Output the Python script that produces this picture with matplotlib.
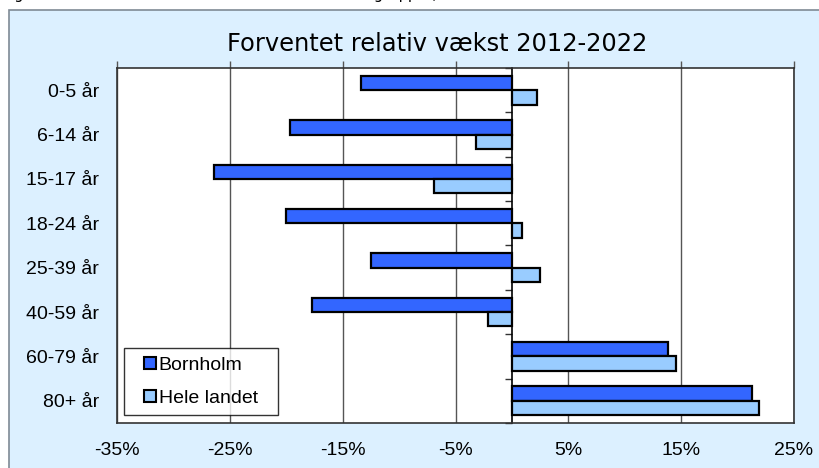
import matplotlib
matplotlib.use('Agg')
import matplotlib.pyplot as plt
from matplotlib.patches import Rectangle
from matplotlib.lines import Line2D
from matplotlib.ticker import FuncFormatter
import numpy as np

# Data (percent)
categories = ['0-5 år', '6-14 år', '15-17 år', '18-24 år', '25-39 år', '40-59 år', '60-79 år', '80+ år']
bornholm = [-13.4, -19.7, -26.4, -20.0, -12.5, -17.7, 13.8, 21.3]
hele_landet = [2.2, -3.2, -6.9, 0.9, 2.5, -2.1, 14.5, 21.9]
x_ticks = [-35, -25, -15, -5, 5, 15, 25]
series_names = ['Bornholm', 'Hele landet']
series_colors = ['#3366FF', '#99CCFF']

title = 'Forventet relativ vækst 2012-2022'
caption = 'Figur 3: Forventet relativ vækst i de enkelte aldersgrupper, 2012-2022'

W, H = 819, 468
fig = plt.figure(figsize=(W / 100, H / 100), dpi=100)
fig.patch.set_facecolor('white')

# light blue chart frame (runs off the right and bottom edge)
frame = Rectangle((9 / W, -0.05), 1.0, (H - 10) / H + 0.05, transform=fig.transFigure,
                  facecolor='#DCF0FF', edgecolor='#7F8A95', linewidth=1.2, zorder=-10)
fig.patches.append(frame)

# caption line cut off at the top edge (only descenders show)
fig.text(3 / W, 1.0 + 1.0 / H, caption, fontsize=10.5, family='DejaVu Sans', va='baseline', ha='left')

ax = fig.add_axes([117 / W, (H - 423) / H, (794 - 117) / W, (423 - 68) / H])
ax.set_facecolor('white')

y = np.arange(len(categories))
h = 0.325
ax.barh(y - h / 2, bornholm, height=h, color=series_colors[0], edgecolor='black', linewidth=1.6,
        zorder=3)
ax.barh(y + h / 2, hele_landet, height=h, color=series_colors[1], edgecolor='black', linewidth=1.6,
        zorder=3)

ax.set_xlim(-35, 25)
ax.set_ylim(len(categories) - 0.5, -0.5)
ax.set_xticks(x_ticks)
ax.xaxis.set_major_formatter(FuncFormatter(lambda v, p: f'{v:.0f}%'))
ax.set_yticks(y)
ax.set_yticklabels(categories)

ax.grid(axis='x', color='#555555', linewidth=1, zorder=1)
ax.tick_params(axis='x', top=True, bottom=False, labelbottom=True, direction='out',
               length=5, width=1, color='#555555', pad=9)
ax.tick_params(axis='y', left=False, pad=9.5)
for lab in ax.get_xticklabels() + ax.get_yticklabels():
    lab.set_family('Liberation Sans')
    lab.set_fontsize(14)
for s in ax.spines.values():
    s.set_color('#333333')
    s.set_linewidth(1.2)

# category axis crossing at zero with small boundary ticks
sec = ax.secondary_yaxis((0 + 35) / 60)
sec.set_yticks(np.arange(len(categories) + 1) - 0.5)
sec.tick_params(axis='y', direction='in', length=5, width=1, labelright=False, labelleft=False,
                color='#333333')
sec.spines['right'].set_color('black')
sec.spines['right'].set_linewidth(1.2)

fig.text(437 / W, (H - 51) / H, title, fontsize=17.4, family='DejaVu Sans', ha='center',
         va='baseline')

handles = [Line2D([], [], linestyle='none', marker='s', markersize=8, markerfacecolor=c,
                  markeredgecolor='black', markeredgewidth=1.5) for c in series_colors]
leg = ax.legend(handles, series_names, loc='lower left',
                bbox_to_anchor=(7 / 677, 8 / 355, 154 / 677, 66 / 355), mode='expand',
                borderaxespad=0, prop={'family': 'Liberation Sans', 'size': 14}, frameon=True,
                fancybox=False, handlelength=1.85, handletextpad=-0.5, labelspacing=0.76,
                borderpad=0.43, edgecolor='black', numpoints=1)
leg.get_frame().set_linewidth(1)
leg.get_frame().set_facecolor('white')

fig.savefig('out.png', dpi=100)
